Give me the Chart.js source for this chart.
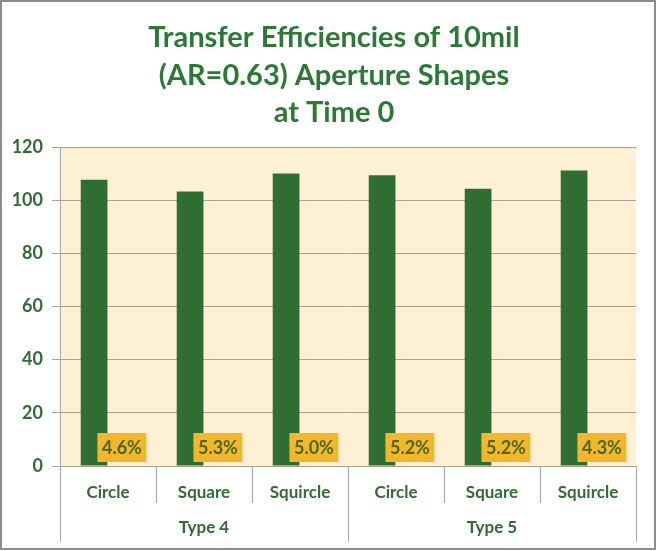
<!DOCTYPE html>
<html>
<head>
<meta charset="utf-8">
<script src="https://cdn.jsdelivr.net/npm/chart.js@4.4.1/dist/chart.umd.min.js"></script>
<style>
  html, body { margin: 0; padding: 0; background: #fff; }
  #wrap { width: 657px; height: 551px; }
</style>
</head>
<body>
<div id="wrap"><canvas id="c" width="657" height="551"></canvas></div>
<script>
// values
const titleLines = ['Transfer Efficiencies of 10mil', '(AR=0.63) Aperture Shapes', 'at Time 0'];
const shapes = ['Circle', 'Square', 'Squircle', 'Circle', 'Square', 'Squircle'];
const groups = ['Type 4', 'Type 5'];
const groupSize = 3;
const transferEff = [107.7, 103.3, 110.0, 109.4, 104.3, 111.2];
const cvPct = [4.6, 5.3, 5.0, 5.2, 5.2, 4.3];
const yTicks = [0, 20, 40, 60, 80, 100, 120];

const GREEN_TEXT = '#2f6d34';
const FONT = 'Lato, "Open Sans", sans-serif';

// cream plot background, outer frame and the (slightly off-centre) title
const backdrop = {
  id: 'backdrop',
  beforeDraw(chart) {
    const { ctx, chartArea: a } = chart;
    ctx.save();
    ctx.fillStyle = '#fdf0d4';
    ctx.fillRect(a.left, a.top, a.right - a.left, a.bottom - a.top);
    ctx.restore();
  },
  afterDraw(chart) {
    const ctx = chart.ctx;
    ctx.save();
    ctx.fillStyle = '#2a7a34';
    ctx.font = 'bold 29px ' + FONT;
    ctx.textAlign = 'center';
    ctx.textBaseline = 'alphabetic';
    titleLines.forEach((t, i) => ctx.fillText(t, 334, 47 + i * 37.5));
    ctx.strokeStyle = '#8c8c8c';
    ctx.lineWidth = 2;
    ctx.strokeRect(1, 1, chart.width - 3, chart.height - 3);
    ctx.restore();
  }
};

// cv% labels in amber boxes, sitting on the hidden second bar
const cvLabels = {
  id: 'cvLabels',
  afterDatasetsDraw(chart) {
    const ctx = chart.ctx;
    const meta = chart.getDatasetMeta(1);
    const base = chart.scales.y.getPixelForValue(0);
    ctx.save();
    ctx.font = 'bold 18px ' + FONT;
    ctx.textAlign = 'center';
    ctx.textBaseline = 'middle';
    meta.data.forEach((bar, i) => {
      const w = 49, h = 29;
      const x = bar.x, yb = base - 4;
      ctx.fillStyle = '#f4b72c';
      ctx.fillRect(x - w / 2, yb - h, w, h);
      ctx.fillStyle = '#46691f';
      ctx.fillText(cvPct[i].toFixed(1) + '%', x, yb - h / 2 + 1);
    });
    ctx.restore();
  }
};

// two-level category axis: separators + group names
const groupAxis = {
  id: 'groupAxis',
  afterDraw(chart) {
    const ctx = chart.ctx;
    const xs = chart.scales.x;
    const top = chart.chartArea.bottom;
    const step = xs.getPixelForValue(1) - xs.getPixelForValue(0);
    ctx.save();
    ctx.strokeStyle = '#a6a6a6';
    ctx.lineWidth = 1;
    for (let i = 0; i <= shapes.length; i++) {
      const x = Math.round(xs.getPixelForValue(0) - step / 2 + i * step) + 0.5;
      const isGroupEdge = i % groupSize === 0;
      ctx.beginPath();
      ctx.moveTo(x, top);
      ctx.lineTo(x, top + (isGroupEdge ? 76 : 37));
      ctx.stroke();
    }
    ctx.fillStyle = GREEN_TEXT;
    ctx.font = 'bold 17px ' + FONT;
    ctx.textAlign = 'center';
    ctx.textBaseline = 'middle';
    groups.forEach((g, gi) => {
      const first = xs.getPixelForValue(gi * groupSize);
      const last = xs.getPixelForValue(gi * groupSize + groupSize - 1);
      ctx.fillText(g, (first + last) / 2, top + 62);
    });
    ctx.restore();
  }
};

new Chart(document.getElementById('c'), {
  type: 'bar',
  data: {
    labels: shapes,
    datasets: [
      {
        label: 'Transfer Efficiency',
        data: transferEff,
        backgroundColor: '#2e6f31',
        borderWidth: 0,
        categoryPercentage: 0.58,
        barPercentage: 0.96
      },
      {
        label: 'CV',
        data: cvPct,
        backgroundColor: 'rgba(0,0,0,0)',
        borderWidth: 0,
        categoryPercentage: 0.58,
        barPercentage: 0.96
      }
    ]
  },
  options: {
    responsive: false,
    animation: false,
    layout: { padding: { left: 10, right: 21, top: 147, bottom: 6 } },
    plugins: {
      legend: { display: false },
      tooltip: { enabled: false },
      title: { display: false }
    },
    scales: {
      x: {
        grid: { display: false, drawTicks: false },
        border: { display: false },
        ticks: {
          color: GREEN_TEXT,
          font: { family: FONT, size: 17, weight: 'bold' },
          padding: 16,
          maxRotation: 0
        },
        afterFit(scale) { scale.height = 79; }
      },
      y: {
        min: 0,
        max: 120,
        afterBuildTicks(scale) { scale.ticks = yTicks.map(v => ({ value: v })); },
        grid: { color: '#aaa08a', tickLength: 8, tickColor: '#aaa08a' },
        border: { color: '#a6a6a6' },
        ticks: {
          color: GREEN_TEXT,
          font: { family: FONT, size: 18, weight: 'bold' },
          padding: 9
        },
        afterFit(scale) { scale.width = 50; }
      }
    }
  },
  plugins: [backdrop, cvLabels, groupAxis]
});
</script>
</body>
</html>
